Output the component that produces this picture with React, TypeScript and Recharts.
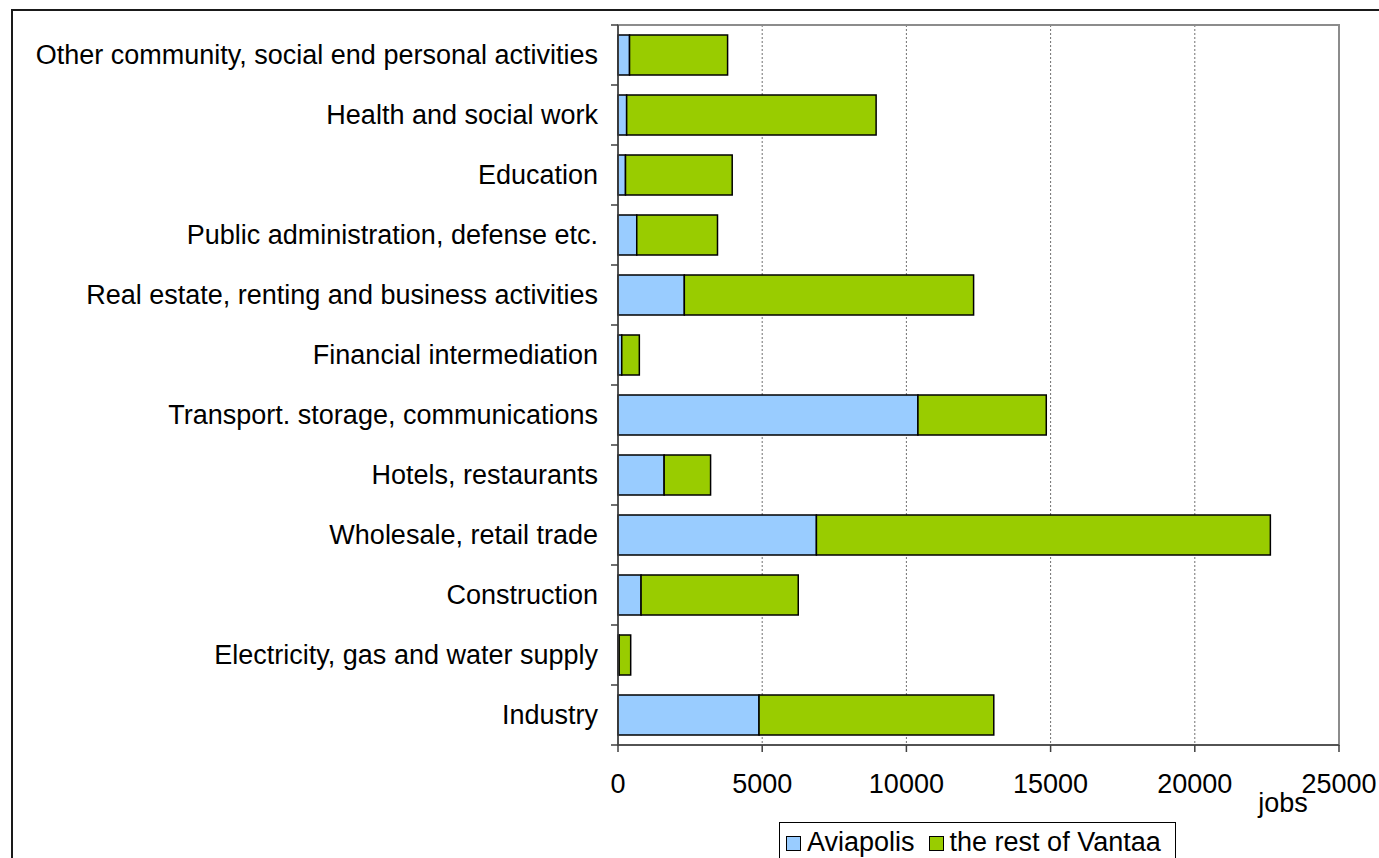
import React from 'react';
import { BarChart, Bar, XAxis, YAxis, CartesianGrid, ReferenceArea } from 'recharts';

const CATEGORIES = [
  'Other community, social end personal activities',
  'Health and social work',
  'Education',
  'Public administration, defense etc.',
  'Real estate, renting and business activities',
  'Financial intermediation',
  'Transport. storage, communications',
  'Hotels, restaurants',
  'Wholesale, retail trade',
  'Construction',
  'Electricity, gas and water supply',
  'Industry',
];
const AVIAPOLIS = [400, 300, 260, 650, 2300, 130, 10400, 1600, 6880, 800, 40, 4890];
const REST_OF_VANTAA = [3400, 8650, 3700, 2800, 10030, 610, 4450, 1610, 15740, 5450, 400, 8140];
const X_TICKS = [0, 5000, 10000, 15000, 20000, 25000];
const SERIES_NAMES = ['Aviapolis', 'the rest of Vantaa'];
const AXIS_LABEL = 'jobs';

const COLORS = ['#99CCFF', '#99CC00'];
const FONT = '"Liberation Sans", Arial, Helvetica, sans-serif';
const FONT_SIZE = 27;
const W = 1379;
const H = 858;
const MARGIN = { top: 25, right: 40, bottom: 73, left: 0 };
const Y_AXIS_W = 618;
const X_AXIS_H = 40;
const PLOT_H = H - MARGIN.top - MARGIN.bottom - X_AXIS_H;

const data = CATEGORIES.map((c, i) => ({
  category: c,
  aviapolis: AVIAPOLIS[i],
  rest: REST_OF_VANTAA[i],
}));

const YTick = (props: any) => {
  const { x, y, payload, index } = props;
  const half = PLOT_H / CATEGORIES.length / 2;
  return (
    <g>
      <line x1={x - 7} x2={x} y1={y - half} y2={y - half} stroke="#404040" strokeWidth={1.5} />
      {index === CATEGORIES.length - 1 && (
        <line x1={x - 7} x2={x} y1={y + half} y2={y + half} stroke="#404040" strokeWidth={1.5} />
      )}
      <text x={x - 20} y={y} dy="0.35em" textAnchor="end" fill="#000" fontSize={FONT_SIZE} fontFamily={FONT}>
        {payload.value}
      </text>
    </g>
  );
};

const XTick = (props: any) => {
  const { x, y, payload } = props;
  return (
    <g>
      <line x1={x} x2={x} y1={y} y2={y + 7} stroke="#404040" strokeWidth={1.5} />
      <text x={x} y={y + 48} textAnchor="middle" fill="#000" fontSize={FONT_SIZE} fontFamily={FONT}>
        {payload.value}
      </text>
    </g>
  );
};

const JobsLabel = (props: any) => {
  const vb = props.viewBox || {};
  return (
    <text
      x={vb.x + vb.width - 56}
      y={vb.y + 67}
      textAnchor="middle"
      fill="#000"
      fontSize={FONT_SIZE}
      fontFamily={FONT}
    >
      {AXIS_LABEL}
    </text>
  );
};

export default function App() {
  return (
    <div style={{ position: 'relative', width: W, height: H, overflow: 'hidden', background: '#fff', fontFamily: FONT }}>
      <style>{`body{margin:0;overflow:hidden;}`}</style>
      <div
        style={{
          position: 'absolute',
          left: 11,
          top: 9,
          width: 3000,
          height: 3000,
          borderLeft: '2px solid #1a1a1a',
          borderTop: '2px solid #1a1a1a',
        }}
      />
      <div style={{ position: 'absolute', left: 0, top: 0 }}>
        <BarChart width={W} height={H} data={data} layout="vertical" margin={MARGIN} barSize={40}>
          <CartesianGrid horizontal={false} stroke="#707070" strokeDasharray="2 2" />
          <ReferenceArea x1={0} x2={25000} fill="none" fillOpacity={0} stroke="#8c8c8c" strokeWidth={2} ifOverflow="visible" />
          <XAxis
            type="number"
            domain={[0, 25000]}
            ticks={X_TICKS}
            interval={0}
            height={X_AXIS_H}
            tickSize={0}
            tickMargin={0}
            tick={<XTick />}
            tickLine={false}
            axisLine={{ stroke: '#404040', strokeWidth: 1.5 }}
            label={<JobsLabel />}
          />
          <YAxis
            type="category"
            dataKey="category"
            width={Y_AXIS_W}
            interval={0}
            tickSize={0}
            tickMargin={0}
            tick={<YTick />}
            tickLine={false}
            axisLine={{ stroke: '#404040', strokeWidth: 1.5 }}
          />
          <Bar dataKey="aviapolis" name={SERIES_NAMES[0]} stackId="a" fill={COLORS[0]} stroke="#000" strokeWidth={1.5} isAnimationActive={false} />
          <Bar dataKey="rest" name={SERIES_NAMES[1]} stackId="a" fill={COLORS[1]} stroke="#000" strokeWidth={1.5} isAnimationActive={false} />
        </BarChart>
      </div>
      <div
        style={{
          position: 'absolute',
          left: 779,
          top: 822,
          width: 397,
          height: 44,
          border: '1px solid #000',
          background: '#fff',
          boxSizing: 'border-box',
          display: 'flex',
          alignItems: 'flex-start',
          paddingLeft: 6,
          paddingTop: 4,
          fontSize: FONT_SIZE,
          lineHeight: '30px',
          color: '#000',
        }}
      >
        {SERIES_NAMES.map((n, i) => (
          <div key={n} style={{ display: 'flex', alignItems: 'center', marginRight: i === 0 ? 14 : 0 }}>
            <span
              style={{
                display: 'inline-block',
                width: 13,
                height: 13,
                background: COLORS[i],
                border: '1px solid #000',
                marginRight: 6,
                marginTop: 2,
              }}
            />
            <span>{n}</span>
          </div>
        ))}
      </div>
    </div>
  );
}
